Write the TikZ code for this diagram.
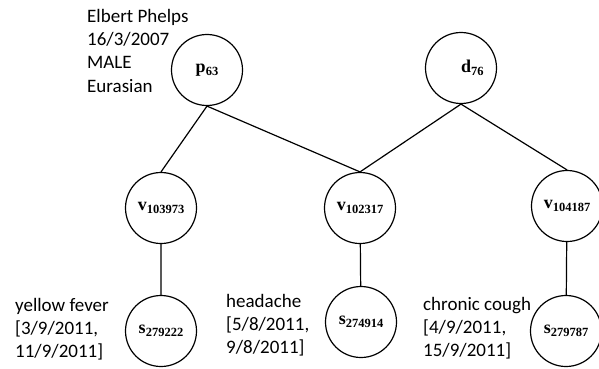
\documentclass[tikz,border=0pt]{standalone}
\usepackage{fontspec}
\setmainfont{Carlito}
\newfontfamily\idfont{Liberation Serif}
% bold id with a small bold subscript
\newcommand{\nid}[2]{{\idfont\bfseries\fontsize{18}{18}\selectfont #1\raisebox{-3.5pt}{\fontsize{12.5}{12.5}\selectfont #2}}}

\begin{document}
\begin{tikzpicture}[x=1pt, y=-1pt, line join=round, line cap=round,
	vtx/.style={draw, circle, line width=1.2pt, minimum size=71pt, inner sep=0pt},
	info/.style={anchor=north west, inner sep=0pt, align=left, font=\fontsize{19}{23.3}\selectfont},
	edge/.style={line width=1.2pt}]
		\useasboundingbox (0,0) rectangle (599,369);
		% patient and doctor
		\node[vtx] (p) at (207,70) {\nid{p}{63}};
		\node[vtx] (d) at (461,68) {\phantom{\nid{d}{76}}\nid{d}{76}};
		% visits
		\node[vtx] (v1) at (161,208) {\nid{v}{103973}};
		\node[vtx] (v2) at (360,208) {\nid{v}{102317}};
		\node[vtx] (v3) at (567,206) {\nid{v}{104187}};
		% symptoms
		\node[vtx] (s1) at (161,331) {\nid{s}{279222}};
		\node[vtx] (s2) at (361,322) {\nid{s}{274914}};
		\node[vtx] (s3) at (566,331) {\nid{s}{279787}};
		% attributes
		\node[info] (pinfo) at (87,9) {Elbert Phelps\\16/3/2007\\MALE\\Eurasian};
		\node[info] (s1info) at (15,298) {yellow fever\\{[}3/9/2011,\\11/9/2011{]}};
		\node[info] (s2info) at (226,294) {headache\\{[}5/8/2011,\\9/8/2011{]}};
		\node[info] (s3info) at (423,297) {chronic cough\\{[}4/9/2011,\\15/9/2011{]}};
		\draw[edge] (p.south) -- (v1.north) (p.south) -- (v2.north);
		\draw[edge] (d.south) -- (v2.north) (d.south) -- (v3.north);
		\draw[edge] (v1) -- (s1) (v2) -- (s2) (v3) -- (s3);
\end{tikzpicture}
\end{document}
